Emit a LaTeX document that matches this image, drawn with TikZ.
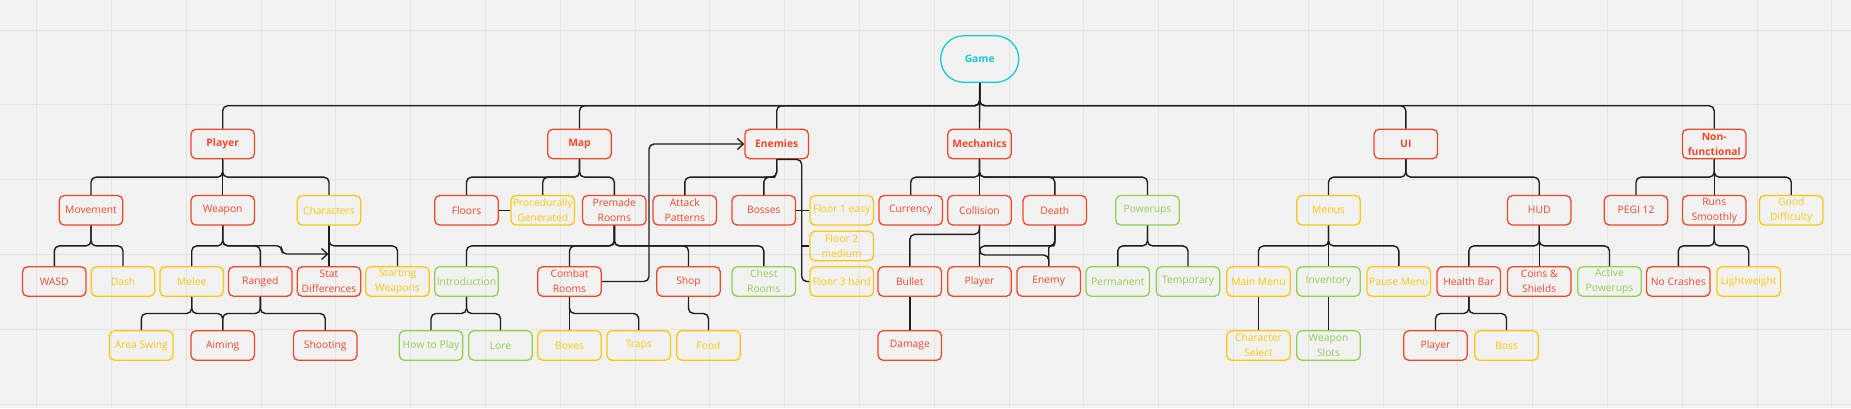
\documentclass[tikz,border=0pt]{standalone}
\usepackage{fontspec}
\setmainfont{Open Sans}
\usetikzlibrary{calc,arrows.meta}
\definecolor{bgc}{HTML}{F2F2F2}
\definecolor{gridc}{HTML}{E4E4E4}
\definecolor{mred}{HTML}{F24726}
\definecolor{myel}{HTML}{FAC710}
\definecolor{mgrn}{HTML}{8FD14F}
\definecolor{mcyan}{HTML}{12CDD4}
\definecolor{lnc}{HTML}{1E1E1E}
\begin{document}
\begin{tikzpicture}[x=1pt,y=-1pt,
  box/.style={draw, line width=1.3pt, rounded corners=5pt, minimum width=63.5pt,
    minimum height=29.5pt, inner sep=0pt, align=center,
    font=\fontsize{10.3}{15}\selectfont},
  R/.style={box, draw=mred, text=mred},
  Y/.style={box, draw=myel, text=myel},
  G/.style={box, draw=mgrn, text=mgrn},
  B/.style={font=\fontsize{10.3}{15}\selectfont\bfseries},
  conn/.style={draw=lnc, line width=1.4pt, rounded corners=5pt},
  elb/.style={to path={(\tikztostart) |- ($(\tikztostart)!0.5!(\tikztotarget)$) -| (\tikztotarget)}},
  arr/.style={-{Straight Barb[length=6pt,width=11pt,line width=1.3pt]}}
]
\useasboundingbox (0,0) rectangle (1851,408);
\fill[bgc] (0,0) rectangle (1851,408);
\foreach \k in {0,...,24} \draw[gridc, line width=0.8pt] ({36.5+\k*74.8},0) -- ({36.5+\k*74.8},408);
\foreach \k in {0,...,5} \draw[gridc, line width=0.8pt] (0,{30+\k*74.8}) -- (1851,{30+\k*74.8});

% Root
\node[draw=mcyan, text=mcyan, line width=1.3pt, rounded corners=23pt, minimum width=78pt,
  minimum height=46.5pt, inner sep=0pt, font=\fontsize{10.3}{15}\selectfont\bfseries] (game) at (979.7,59) {Game};

% Row 1
\node[R,B] (player) at (222.7,144) {Player};
\node[R,B] (map) at (579.5,144) {Map};
\node[R,B] (enemies) at (776.7,144) {Enemies};
\node[R,B] (mech) at (979.5,144) {Mechanics};
\node[R,B] (ui) at (1405.8,144) {UI};
\node[R,B] (nonf) at (1714.2,144) {Non-\\functional};

% Row 2
\node[R] (movement) at (91,210.3) {Movement};
\node[R] (weapon) at (222.7,210.3) {Weapon};
\node[Y] (characters) at (329,210.3) {Characters};
\node[R] (floors) at (466.5,210.3) {Floors};
\node[Y] (procgen) at (542.7,210.3) {Procedurally\\Generated};
\node[R] (premade) at (614.3,210.3) {Premade\\Rooms};
\node[R] (attack) at (684.8,210.3) {Attack\\Patterns};
\node[R] (bosses) at (763.8,210.3) {Bosses};
\node[Y] (floor1) at (841.7,210.3) {Floor 1 easy};
\node[Y] (floor2) at (841.7,246) {Floor 2\\medium};
\node[R] (currency) at (910.7,210.3) {Currency};
\node[R] (collision) at (979.5,210.3) {Collision};
\node[R] (death) at (1054.8,210.3) {Death};
\node[G] (powerups) at (1147.5,210.3) {Powerups};
\node[Y] (menus) at (1328.5,210.3) {Menus};
\node[R] (hud) at (1539.2,210.3) {HUD};
\node[R] (pegi) at (1636,210.3) {PEGI 12};
\node[R] (runs) at (1714.2,210.3) {Runs\\Smoothly};
\node[Y] (gooddiff) at (1791.2,210.3) {Good\\Difficulty};

% Row 3
\node[R] (wasd) at (54.3,281.5) {WASD};
\node[Y] (dash) at (123,281.5) {Dash};
\node[Y] (melee) at (191.7,281.5) {Melee};
\node[R] (ranged) at (260.3,281.5) {Ranged};
\node[R] (statdiff) at (329,281.5) {Stat\\Differences};
\node[Y] (startw) at (397.5,281.5) {Starting\\Weapons};
\node[G] (intro) at (466.5,281.5) {Introduction};
\node[R] (combat) at (569.5,281.5) {Combat\\Rooms};
\node[R] (shop) at (688.5,281.5) {Shop};
\node[G] (chest) at (763.8,281.5) {Chest\\Rooms};
\node[Y] (floor3) at (841.7,281.5) {Floor 3 hard};
\node[R] (bullet) at (909.8,281.5) {Bullet};
\node[R] (mplayer) at (979.5,281.5) {Player};
\node[R] (enemy) at (1048.7,281.5) {Enemy};
\node[G] (permanent) at (1117.8,281.5) {Permanent};
\node[G] (temporary) at (1188,281.5) {Temporary};
\node[Y] (mainmenu) at (1258.5,281.5) {Main Menu};
\node[G] (inventory) at (1328.5,281.5) {Inventory};
\node[Y] (pause) at (1398.8,281.5) {Pause Menu};
\node[R] (healthbar) at (1468.8,281.5) {Health Bar};
\node[R] (coins) at (1539.2,281.5) {Coins \&\\Shields};
\node[G] (activep) at (1609.5,281.5) {Active\\Powerups};
\node[R] (nocrash) at (1678.3,281.5) {No Crashes};
\node[Y] (light) at (1748.7,281.5) {Lightweight};

% Row 4
\node[Y] (areaswing) at (141.3,345.5) {Area Swing};
\node[R] (aiming) at (222.7,345.5) {Aiming};
\node[R] (shooting) at (325.2,345.5) {Shooting};
\node[G] (howto) at (431,345.5) {How to Play};
\node[G] (lore) at (500.5,345.5) {Lore};
\node[Y] (boxes) at (569.5,345.5) {Boxes};
\node[Y] (traps) at (638.7,345.5) {Traps};
\node[Y] (food) at (708.5,345.5) {Food};
\node[R] (damage) at (909.8,345.5) {Damage};
\node[Y] (charsel) at (1258.5,345.5) {Character\\Select};
\node[G] (weapslots) at (1328.5,345.5) {Weapon\\Slots};
\node[R] (hplayer) at (1435.5,345.5) {Player};
\node[Y] (boss) at (1506.5,345.5) {Boss};

% Elbow connectors
\foreach \a/\b in {game/player, game/map, game/enemies, game/ui, game/nonf,
  player/movement, player/characters, movement/wasd, movement/dash,
  weapon/melee, weapon/ranged, characters/startw,
  melee/areaswing, melee/aiming, ranged/aiming, ranged/shooting,
  map/floors, map/procgen, map/premade,
  premade/intro, premade/combat, premade/shop, premade/chest,
  intro/howto, intro/lore, combat/traps, shop/food,
  enemies/attack, enemies/bosses,
  mech/currency, mech/death, mech/powerups,
  death/mplayer,
  powerups/permanent, powerups/temporary,
  ui/menus, ui/hud, menus/mainmenu, menus/pause,
  hud/healthbar, hud/activep, healthbar/hplayer, healthbar/boss,
  nonf/pegi, nonf/gooddiff, runs/nocrash, runs/light}
  \draw[conn] (\a.south) to[elb] (\b.north);
\draw[conn, rounded corners=2.5pt] (death.south) to[elb] (enemy.north);

% Straight connectors
\foreach \a/\b in {game/mech, player/weapon, characters/statdiff, combat/boxes,
  mech/collision, collision/mplayer, bullet/damage, menus/inventory,
  mainmenu/charsel, inventory/weapslots, hud/coins, nonf/runs}
  \draw[conn] (\a.south) -- (\b.north);

% Special connectors
\coordinate (sdin) at (328.5,254);
\draw[conn,arr] (weapon.south) |- (281.7,245.7) |- (sdin);
\draw[conn] (floors.east) -- (procgen.west);
\coordinate (cbend) at (649,144);
\draw[conn,arr] (combat.east) -| (cbend) -- (enemies.west);
\coordinate (ebend) at (801.7,281.5);
\draw[conn] (enemies.south) -| (ebend) -- (floor3.west);
\draw[conn] (ebend |- floor2.west) -- (floor2.west);
\draw[conn] (bosses.east) -- (floor1.west);
\draw[conn] (collision.south) |- (909.8,234.3) -- (bullet.north);
\draw[conn] (collision.south) |- (1048.7,255) -- (enemy.north);
\end{tikzpicture}
\end{document}
